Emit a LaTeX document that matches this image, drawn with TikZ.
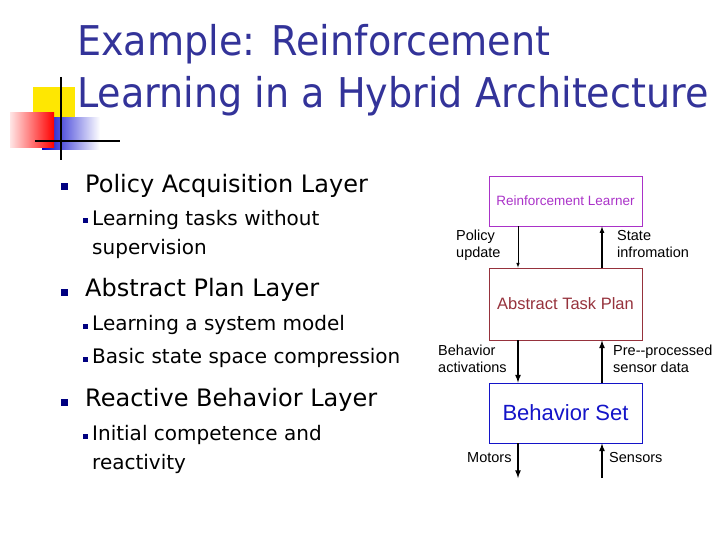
\documentclass[tikz,border=0pt]{standalone}
\usepackage{fontspec}
\setmainfont{DejaVu Sans}
\newfontfamily\dfont{Liberation Sans}
\definecolor{ttl}{RGB}{51,51,153}
\definecolor{bul}{RGB}{0,0,128}
\definecolor{rlc}{RGB}{170,50,200}
\definecolor{atc}{RGB}{150,50,60}
\definecolor{bsc}{RGB}{20,20,200}
\begin{document}
\begin{tikzpicture}[x=1pt,y=-1pt,
  ttlstyle/.style={anchor=base west,text=ttl,font=\fontsize{41}{44}\selectfont,inner sep=0},
  l1/.style={anchor=west,font=\fontsize{24}{28}\selectfont,inner sep=0},
  l2/.style={anchor=north west,font=\fontsize{20}{29}\selectfont,inner sep=0,align=left},
  blt/.style={fill=bul,minimum size=#1,inner sep=0},
  box/.style={draw=#1,line width=0.9pt,minimum width=153,inner sep=0},
  lab/.style={font=\dfont\fontsize{14.5}{17}\selectfont,align=left,inner sep=0,anchor=north west},
  arr/.style={-latex,line width=#1}]
\useasboundingbox (0,0) rectangle (720,540);
% logo
\fill[yellow!90!orange] (33,87) rectangle (75,118);
\shade[left color=blue!80!black,right color=white] (42,118) rectangle (100,150);
\shade[left color=red!10,right color=red] (10,113) rectangle (54,148);
\draw[line width=1.5pt] (61,77) -- (61,160);
\draw[line width=1.5pt] (35,141) -- (120,141);
% title
\node[ttlstyle] (t1) at (77,56) {\scalebox{0.93}[1]{Example: Reinforcement}};
\node[ttlstyle] (t2) at (77,108) {\scalebox{0.93}[1]{Learning in a Hybrid Architecture}};
% bullets
\node[blt=7] (b1) at (64,187) {}; \node[l1] (p1) at (85,186) {Policy Acquisition Layer};
\node[blt=5] (s1) at (85,221) {}; \node[l2] (q1) at (92,210) {Learning tasks without\\supervision};
\node[blt=7] (b2) at (64,292) {}; \node[l1] (p2) at (85,290) {Abstract Plan Layer};
\node[blt=5] (s2) at (85,326) {}; \node[l2] (q2) at (92,315) {Learning a system model};
\node[blt=5] (s3) at (85,359) {}; \node[l2] (q3) at (92,348) {Basic state space compression};
\node[blt=7] (b3) at (64,402) {}; \node[l1] (p3) at (85,400) {Reactive Behavior Layer};
\node[blt=5] (s4) at (85,436) {}; \node[l2] (q4) at (92,425) {Initial competence and\\reactivity};
% diagram
\node[box=rlc,minimum height=50,text=rlc,font=\dfont\fontsize{13.5}{16}\selectfont] (rl) at (565.5,201) {Reinforcement Learner};
\node[box=atc,minimum height=72,text=atc,font=\dfont\fontsize{16.5}{19}\selectfont] (atp) at (565.5,304) {Abstract Task Plan};
\node[box=bsc,minimum height=60,text=bsc,font=\dfont\fontsize{22}{24}\selectfont] (bs) at (565.5,413) {Behavior Set};
\coordinate (m) at (518,478); \coordinate (s) at (602,478);
\draw[arr=0.6pt] (rl.south-|m) -- (atp.north-|m);
\draw[arr=1.2pt] (atp.north-|s) -- (rl.south-|s);
\draw[arr=1.6pt] (atp.south-|m) -- (bs.north-|m);
\draw[arr=1.6pt] (bs.north-|s) -- (atp.south-|s);
\draw[arr=1.6pt] (bs.south-|m) -- (m);
\draw[arr=1.6pt] (s) -- (bs.south-|s);
\node[lab] (l1) at (456,230) {Policy\\update};
\node[lab] (l2) at (617,230) {State\\infromation};
\node[lab] (l3) at (438,345) {Behavior\\activations};
\node[lab] (l4) at (613,345) {Pre--processed\\sensor data};
\node[lab] (l5) at (467,452) {Motors};
\node[lab] (l6) at (609,452) {Sensors};
\end{tikzpicture}
\end{document}
